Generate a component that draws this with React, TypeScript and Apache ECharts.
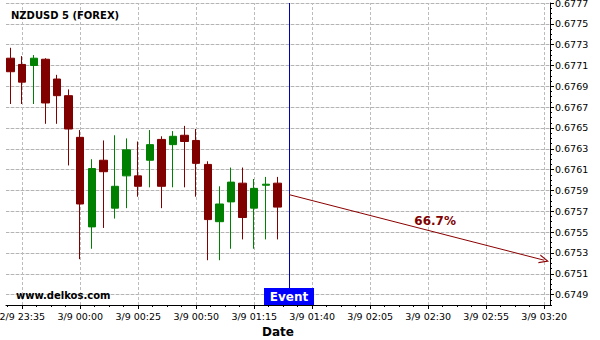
import React, { useEffect, useRef } from "react";
import * as echarts from "echarts";

// Candles (5-minute bars)
const times = [
  "23:30", "23:35", "23:40", "23:45", "23:50", "23:55",
  "00:00", "00:05", "00:10", "00:15", "00:20", "00:25",
  "00:30", "00:35", "00:40", "00:45", "00:50", "00:55",
  "01:00", "01:05", "01:10", "01:15", "01:20", "01:25",
];
const opens = [
  0.67717, 0.67711, 0.6771, 0.67716, 0.67697, 0.67681,
  0.67641, 0.67555, 0.67619, 0.67573, 0.67604, 0.67604,
  0.67619, 0.67639, 0.67634, 0.67643, 0.67638, 0.67615,
  0.6756, 0.67579, 0.67597, 0.67573, 0.67595, 0.67597,
];
const closes = [
  0.67704, 0.67694, 0.67717, 0.67674, 0.67681, 0.67649,
  0.67577, 0.67611, 0.67608, 0.67594, 0.67629, 0.67594,
  0.67634, 0.67594, 0.67642, 0.67637, 0.67616, 0.67562,
  0.67577, 0.67598, 0.67564, 0.67592, 0.67596, 0.67574,
];
const lows = [
  0.67673, 0.67673, 0.67673, 0.67654, 0.67654, 0.67614,
  0.67524, 0.67534, 0.67554, 0.67563, 0.67573, 0.67584,
  0.67593, 0.67573, 0.67593, 0.67593, 0.67584, 0.67523,
  0.67523, 0.67534, 0.67543, 0.67534, 0.67543, 0.67543,
];
const highs = [
  0.67727, 0.67719, 0.6772, 0.67717, 0.67701, 0.67687,
  0.67648, 0.6762, 0.67638, 0.67643, 0.6764, 0.67637,
  0.67648, 0.67642, 0.67647, 0.67652, 0.67649, 0.67618,
  0.67594, 0.67612, 0.67612, 0.67601, 0.67603, 0.67603,
];

// Axis ticks
const xTickTimes = ["23:35", "00:00", "00:25", "00:50", "01:15", "01:40", "02:05", "02:30", "02:55", "03:20"];
const xTickLabels = [
  "2/9 23:35", "3/9 00:00", "3/9 00:25", "3/9 00:50", "3/9 01:15",
  "3/9 01:40", "3/9 02:05", "3/9 02:30", "3/9 02:55", "3/9 03:20",
];
const yTickValues = [
  0.6749, 0.6751, 0.6753, 0.6755, 0.6757, 0.6759, 0.6761, 0.6763,
  0.6765, 0.6767, 0.6769, 0.6771, 0.6773, 0.6775, 0.6777,
];
const yMin = 0.6748;
const yMax = 0.6777;

// Event & projection
const eventTime = "01:30";
const projectionStartTime = "01:30";
const projectionEndTime = "03:20";
const projectionStartPrice = 0.67586;
const projectionEndPrice = 0.67523;
const projectionLabel = "66.7%";
const projectionLabelTime = "02:33";
const projectionLabelPrice = 0.67561;

// minutes relative to 23:35
function toMin(s: string): number {
  const [h, m] = s.split(":").map(Number);
  let t = h * 60 + m;
  if (h >= 12) t -= 24 * 60;
  return t + 25;
}

const X_MIN = -7;
const X_MAX = 227.5;

export default function App() {
  const ref = useRef<HTMLDivElement>(null);
  useEffect(() => {
    if (!ref.current) return;
    const chart = echarts.init(ref.current, undefined, { renderer: "svg" });
    const xTickVals = xTickTimes.map(toMin);
    const labelMap: Record<string, string> = {};
    xTickVals.forEach((v, i) => (labelMap[String(v)] = xTickLabels[i]));
    const xMinor: number[] = [];
    for (let k = -1; k <= 36; k++) xMinor.push(k * 6.25);
    const yMinor: number[] = [];
    for (let k = 0; k <= 58; k++) yMinor.push(Math.round((yMin + k * 0.00005) * 1e6) / 1e6);

    const candleData = times.map((t, i) => [toMin(t), opens[i], closes[i], lows[i], highs[i]]);
    const font = "DejaVu Sans";
    const gridStyle = { color: "#bcbcbc", type: [3, 2] as any, width: 1 };
    const hGridBase = { color: "#e2e2e2", type: "solid", width: 1 };
    const hGridDash = { color: "#b4b4b4", type: [3, 2] as any, width: 1 };

    const option: any = {
      animation: false,
      textStyle: { fontFamily: font },
      grid: { left: 6, right: 50, top: 3, bottom: 35, outerBoundsMode: "none", containLabel: false },
      xAxis: [
        {
          type: "value",
          min: X_MIN,
          max: X_MAX,
          position: "bottom",
          name: "Date",
          nameLocation: "middle",
          nameGap: 17,
          nameTextStyle: { fontFamily: font, fontSize: 12, fontWeight: "bold", color: "#000" },
          axisLine: { show: true, onZero: false, lineStyle: { color: "#000", width: 1 } },
          axisTick: { show: true, length: 4, customValues: xTickVals, lineStyle: { color: "#000" } },
          axisLabel: {
            show: true,
            customValues: xTickVals,
            formatter: (v: number) => labelMap[String(v)] ?? "",
            fontSize: 9.5,
            color: "#000",
            margin: 6,
            fontFamily: font,
          },
          splitLine: { show: false },
        },
        {
          type: "value",
          min: X_MIN,
          max: X_MAX,
          position: "bottom",
          axisLine: { show: false, onZero: false },
          axisTick: { show: true, length: 2, customValues: xMinor, lineStyle: { color: "#000" } },
          axisLabel: { show: false },
          splitLine: { show: false },
        },
      ],
      yAxis: [
        {
          type: "value",
          position: "right",
          min: yMin,
          max: yMax,
          axisLine: { show: true, onZero: false, lineStyle: { color: "#000", width: 1 } },
          axisTick: { show: true, length: 4, customValues: yTickValues, lineStyle: { color: "#000" } },
          axisLabel: {
            show: true,
            customValues: yTickValues,
            formatter: (v: number) => v.toFixed(4),
            fontSize: 9.5,
            color: "#000",
            margin: 5,
            fontFamily: font,
          },
          splitLine: { show: false },
        },
        {
          type: "value",
          position: "right",
          min: yMin,
          max: yMax,
          axisLine: { show: false, onZero: false },
          axisTick: { show: true, length: 2, customValues: yMinor, lineStyle: { color: "#000" } },
          axisLabel: { show: false },
          splitLine: { show: false },
        },
      ],
      graphic: [
        {
          type: "text",
          x: 11,
          y: 15,
          style: { text: "NZDUSD 5 (FOREX)", font: `bold 10px '${font}'`, fill: "#000", verticalAlign: "middle" },
          z: 100,
        },
        {
          type: "text",
          x: 16,
          y: 295,
          style: { text: "www.delkos.com", font: `bold 10px '${font}'`, fill: "#000", verticalAlign: "middle" },
          z: 100,
        },
      ],
      series: [
        {
          type: "line",
          data: [],
          silent: true,
          z: 1,
          markLine: {
            silent: true,
            animation: false,
            z: 1,
            symbol: ["none", "none"],
            label: { show: false },
            emphasis: { disabled: true },
            data: [
              ...yTickValues.map((v) => [
                { coord: [X_MIN, v], lineStyle: hGridBase },
                { coord: [X_MAX, v] },
              ]),
              ...yTickValues.map((v) => [
                { coord: [X_MIN, v], lineStyle: hGridDash },
                { coord: [X_MAX, v] },
              ]),
              ...xTickVals.map((v) => [
                { coord: [v, yMin], lineStyle: gridStyle },
                { coord: [v, yMax] },
              ]),
            ],
          },
        },
        {
          type: "candlestick",
          data: candleData,
          encode: { x: 0, y: [1, 2, 3, 4] },
          barWidth: 8,
          z: 3,
          itemStyle: {
            color: "#008000",
            color0: "#800000",
            borderColor: "#008000",
            borderColor0: "#800000",
            borderColorDoji: "#008000",
            borderWidth: 1,
          },
          silent: true,
        },
        {
          type: "line",
          data: [],
          silent: true,
          z: 5,
          markLine: {
            silent: true,
            animation: false,
            symbol: ["none", "none"],
            label: { show: false },
            emphasis: { disabled: true },
            data: [
              [
                { coord: [toMin(eventTime), yMin], symbol: "none", lineStyle: { color: "#0000b4", type: "solid", width: 1 } },
                { coord: [toMin(eventTime), yMax], symbol: "none" },
              ],
              [
                {
                  coord: [toMin(projectionStartTime), projectionStartPrice],
                  symbol: "none",
                  lineStyle: { color: "#8b0000", type: "solid", width: 1 },
                },
                {
                  coord: [toMin(projectionEndTime), projectionEndPrice],
                  symbol: "path://M5,0 L10,10 L8.6,10 L5,2.6 L1.4,10 L0,10 Z",
                  symbolSize: [9, 10],
                },
              ],
            ],
          },
          markPoint: {
            silent: true,
            animation: false,
            data: [
              {
                coord: [toMin(eventTime), yMin],
                symbol: "rect",
                symbolSize: [50, 17],
                symbolOffset: [0, "-50%"],
                itemStyle: { color: "#0000ff" },
                label: {
                  show: true,
                  position: "inside",
                  formatter: "Event",
                  color: "#fff",
                  fontWeight: "bold",
                  fontSize: 12,
                  fontFamily: font,
                },
              },
              {
                coord: [toMin(projectionLabelTime), projectionLabelPrice],
                symbol: "rect",
                symbolSize: 1,
                itemStyle: { color: "rgba(0,0,0,0)" },
                label: {
                  show: true,
                  position: "inside",
                  formatter: projectionLabel,
                  color: "#800000",
                  fontWeight: "bold",
                  fontSize: 12,
                  fontFamily: font,
                },
              },
            ],
          },
        },
      ],
    };
    chart.setOption(option);
    return () => chart.dispose();
  }, []);
  return <div ref={ref} style={{ width: 600, height: 340, position: "absolute", left: 0, top: 0 }} />;
}
